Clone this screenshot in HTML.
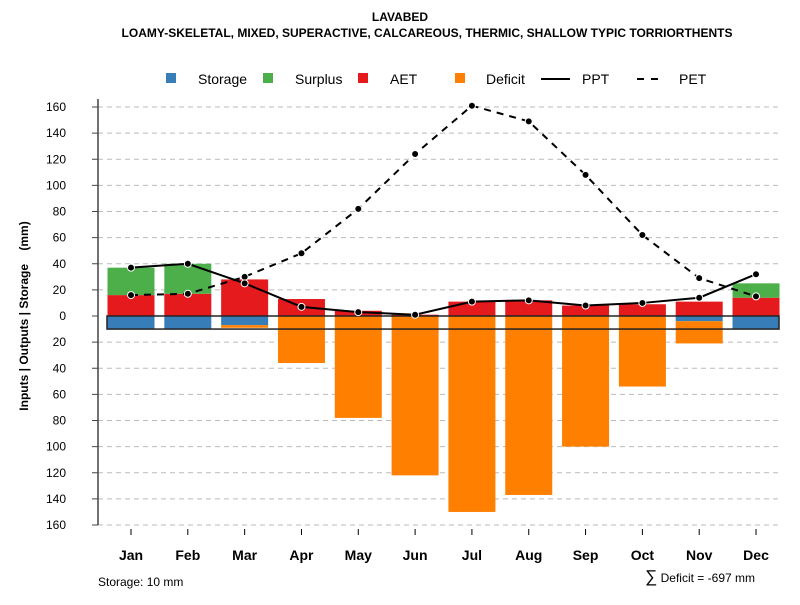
<!DOCTYPE html>
<html><head><meta charset="utf-8"><style>
body{margin:0;background:#fff;font-family:"Liberation Sans",sans-serif}
svg text{font-family:"Liberation Sans",sans-serif}
</style></head><body>
<svg id="c" width="800" height="600" xmlns="http://www.w3.org/2000/svg">
<text x="400" y="21" text-anchor="middle" font-size="12" font-weight="bold">LAVABED</text>
<text x="427" y="37" text-anchor="middle" font-size="12" font-weight="bold">LOAMY-SKELETAL, MIXED, SUPERACTIVE, CALCAREOUS, THERMIC, SHALLOW TYPIC TORRIORTHENTS</text>
<g font-size="14">
<rect x="166" y="73" width="10" height="10" fill="#377EB8"/><text x="198" y="84">Storage</text>
<rect x="263" y="73" width="10" height="10" fill="#4DAF4A"/><text x="295" y="84">Surplus</text>
<rect x="358" y="73" width="10" height="10" fill="#E41A1C"/><text x="390" y="84">AET</text>
<rect x="455" y="73" width="10" height="10" fill="#FF7F00"/><text x="486" y="84">Deficit</text>
<line x1="541" y1="79" x2="570" y2="79" stroke="#000" stroke-width="2"/><text x="582" y="84">PPT</text>
<line x1="637" y1="79" x2="664" y2="79" stroke="#000" stroke-width="2" stroke-dasharray="7,7"/><text x="679" y="84">PET</text>
</g>
<text transform="translate(28,316) rotate(-90)" text-anchor="middle" font-size="12" font-weight="bold" style="white-space:pre" xml:space="preserve">Inputs | Outputs | Storage    (mm)</text>
<text x="98" y="586" font-size="12">Storage: 10 mm</text>
<text x="755" y="582" text-anchor="end" font-size="12"><tspan font-size="17">∑</tspan> Deficit = -697 mm</text>
<g id="g"></g>
</svg>
<script>
const months=["Jan","Feb","Mar","Apr","May","Jun","Jul","Aug","Sep","Oct","Nov","Dec"];
const storage=[-10,-10,-7,0,0,0,0,0,0,0,-4,-10];
const surplus=[21,23,0,0,0,0,0,0,0,0,0,11];
const aet=[16,17,28,13,4,1,11,12,8,9,11,14];
const deficit=[0,0,-2,-36,-78,-122,-150,-137,-100,-54,-17,0];
const ppt=[37,40,25,7,3,1,11,12,8,10,14,32];
const pet=[16,17,30,48,82,124,161,149,108,62,29,15];
const ticks=[-160,-140,-120,-100,-80,-60,-40,-20,0,20,40,60,80,100,120,140,160];
const storageCap=10;
const NS="http://www.w3.org/2000/svg",g=document.getElementById("g");
const y=v=>316-v*209/160, x=i=>131+i*56.82, bw=47;
function mk(t,a){const e=document.createElementNS(NS,t);for(const k in a)e.setAttribute(k,a[k]);g.appendChild(e);return e;}
ticks.forEach(t=>{
 if(t!==0){const l=mk("line",{x1:98,x2:780,y1:y(t),y2:y(t),stroke:"#bbb","stroke-dasharray":"5,4"});
 
 }
 const k=mk("line",{x1:92,x2:98,y1:y(t),y2:y(t),stroke:"#444"});
 
 
 const tx=mk("text",{x:66,y:y(t)+4,"text-anchor":"end","font-size":"12"});tx.textContent=Math.abs(t);
 
 
});
const ax=mk("line",{x1:98,x2:98,y1:y(160)-8,y2:y(-160),stroke:"#444","stroke-width":1.5});


function bar(i,v0,v1,c,n){if(v0===v1)return;const r=mk("rect",{x:x(i)-bw/2,y:Math.min(y(v0),y(v1)),width:bw,height:Math.abs(y(v1)-y(v0)),fill:c});
 
 }
months.forEach((m,i)=>{
 bar(i,0,aet[i],"#E41A1C","bar-aet-"+m.toLowerCase());
 bar(i,aet[i],aet[i]+surplus[i],"#4DAF4A","bar-surplus-"+m.toLowerCase());
 bar(i,0,storage[i],"#377EB8","bar-storage-"+m.toLowerCase());
 bar(i,storage[i],storage[i]+deficit[i],"#FF7F00","bar-deficit-"+m.toLowerCase());
 const k=mk("line",{x1:x(i),x2:x(i),y1:529,y2:535,stroke:"#000"});
 
 
 const t=mk("text",{x:x(i),y:560,"text-anchor":"middle","font-size":"14","font-weight":"bold"});t.textContent=m;
 
 
});
const box=mk("rect",{x:107,y:y(0),width:672,height:y(-storageCap)-y(0),fill:"none",stroke:"#222","stroke-width":1.5});


function series(arr,dash,n){
 const p=mk("polyline",{points:arr.map((v,i)=>x(i)+","+y(v)).join(" "),fill:"none",stroke:"#000","stroke-width":2,"stroke-dasharray":dash});
 
 
 arr.forEach((v,i)=>{const c=mk("circle",{cx:x(i),cy:y(v),r:3.5,fill:"#000",stroke:"#fff","stroke-width":1});
 
 });
}
series(pet,"7,6","pet");
series(ppt,"none","ppt");
</script>
</body></html>
